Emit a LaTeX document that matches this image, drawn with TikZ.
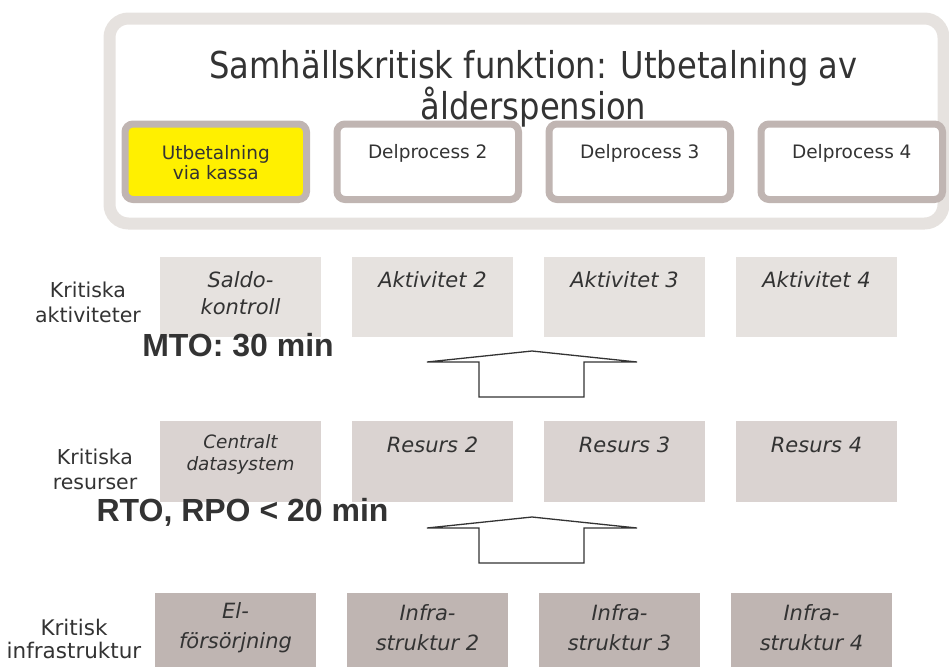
\documentclass[tikz,border=0pt]{standalone}
\usepackage{fontspec}
\setmainfont{DejaVu Sans}
\newfontfamily\titlefont{DejaVu Sans}[FakeStretch=0.87]
\newfontfamily\boldlab{Liberation Sans}
\usetikzlibrary{positioning}
\definecolor{bandgray}{HTML}{E6E2DF}
\definecolor{framegray}{HTML}{C0B5B2}
\definecolor{kassayellow}{HTML}{FFF000}
\definecolor{actfill}{HTML}{E6E2DF}
\definecolor{resfill}{HTML}{DAD3D1}
\definecolor{infrafill}{HTML}{BFB5B2}
\definecolor{ink}{HTML}{333333}
\tikzset{
  procbox/.style={draw=framegray, line width=7pt, rounded corners=8pt, fill=white,
    minimum width=181.5pt, minimum height=75.5pt, inner sep=0pt},
  tierbox/.style={minimum width=161pt, inner sep=0pt},
  boxtext/.style={text=ink, align=center, inner sep=0pt, font=\fontsize{21}{27}\selectfont\itshape},
  infratext/.style={boxtext, font=\fontsize{21}{30}\selectfont\itshape},
  proctext/.style={text=ink, align=center, inner sep=0pt, font=\fontsize{18.5}{20}\selectfont},
  sidelabel/.style={text=ink, align=center, inner sep=0pt, font=\fontsize{20.5}{25}\selectfont},
  metric/.style={text=ink, inner sep=0pt, font=\fontsize{32}{34}\selectfont\boldlab\bfseries},
  blockarrow/.style={draw=ink, line width=1.3pt, line join=miter, fill=white}
}
\begin{document}
\begin{tikzpicture}[x=1pt, y=-1pt]
\useasboundingbox (0,0) rectangle (949,667);

% outer frame of the critical function
\draw[bandgray, line width=12pt, rounded corners=19pt] (109.5,18.5) rectangle (943.5,223.5);
\node[text=ink, align=center, inner sep=0pt, anchor=north, font=\fontsize{37}{33}\selectfont\titlefont] (title)
  at (533.5,50) {Samhällskritisk funktion: Utbetalning av\\ålderspension};

% sub-processes
\node[procbox, fill=kassayellow] (p1) at (215.75,161.75) {};
\node[procbox] (p2) at (427.75,161.75) {};
\node[procbox] (p3) at (639.75,161.75) {};
\node[procbox] (p4) at (851.75,161.75) {};
\node[proctext] (p1t) at (215.75,163) {Utbetalning\\via kassa};
\node[proctext] (p2t) at (427.75,153) {Delprocess 2};
\node[proctext] (p3t) at (639.75,153) {Delprocess 3};
\node[proctext] (p4t) at (851.75,153) {Delprocess 4};

% critical activities
\foreach \n/\x in {a1/240.5, a2/432.5, a3/624.5, a4/816.5}
  \node[tierbox, fill=actfill, minimum height=80pt] (\n) at (\x,297) {};
\node[boxtext] (a1t) at (240.5,293.5) {Saldo-\\kontroll};
\node[boxtext] (a2t) at (432.5,280) {Aktivitet 2};
\node[boxtext] (a3t) at (624.5,280) {Aktivitet 3};
\node[boxtext] (a4t) at (816.5,280) {Aktivitet 4};
\node[sidelabel] (la) at (88,302.5) {Kritiska\\aktiviteter};
\node[metric] (mto) at (238,345) {MTO: 30 min};

% critical resources
\foreach \n/\x in {r1/240.5, r2/432.5, r3/624.5, r4/816.5}
  \node[tierbox, fill=resfill, minimum height=81pt] (\n) at (\x,461.5) {};
\node[boxtext, font=\fontsize{18.4}{22}\selectfont\itshape] (r1t) at (240.5,454) {Centralt\\datasystem};
\node[boxtext] (r2t) at (432.5,445) {Resurs 2};
\node[boxtext] (r3t) at (624.5,445) {Resurs 3};
\node[boxtext] (r4t) at (816.5,445) {Resurs 4};
\node[sidelabel] (lr) at (95,469.5) {Kritiska\\resurser};
\node[metric] (rto) at (242.5,512) {RTO, RPO < 20 min};

% critical infrastructure
\foreach \n/\x in {i1/235.5, i2/427.5, i3/619.5, i4/811.5}
  \node[tierbox, fill=infrafill, minimum height=74pt] (\n) at (\x,630) {};
\node[infratext] (i1t) at (235.5,628) {El-\\försörjning};
\node[infratext] (i2t) at (427.5,628) {Infra-\\struktur 2};
\node[infratext] (i3t) at (619.5,628) {Infra-\\struktur 3};
\node[infratext] (i4t) at (811.5,628) {Infra-\\struktur 4};
\node[sidelabel, font=\fontsize{21.5}{23}\selectfont] (li) at (74,639) {Kritisk\\infrastruktur};

% upward block arrows between the tiers
\draw[blockarrow] (427,362) -- (532,351) -- (637,362) -- (584,362) -- (584,397)
  -- (479,397) -- (479,362) -- cycle;
\draw[blockarrow] (427,528) -- (532,517) -- (637,528) -- (584,528) -- (584,563)
  -- (479,563) -- (479,528) -- cycle;
\end{tikzpicture}
\end{document}
